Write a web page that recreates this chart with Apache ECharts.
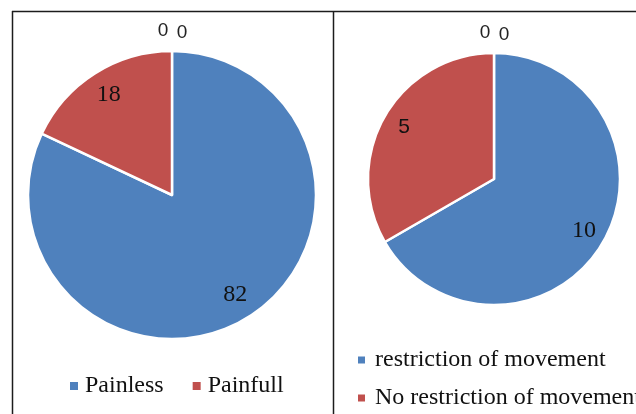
<!DOCTYPE html>
<html>
<head>
<meta charset="utf-8">
<script src="https://cdn.jsdelivr.net/npm/echarts@6/dist/echarts.min.js"></script>
<style>
  html, body { margin: 0; padding: 0; background: #fff; }
  #chart { width: 636px; height: 414px; }
</style>
</head>
<body>
<div id="chart"></div>
<script>
// Pain after treatment
const painNames = ['Painless', 'Painfull'];
const painValues = [82, 18];
// Movement after treatment
const motionNames = ['restriction of movement', 'No restriction of movement'];
const motionValues = [10, 5];
// Empty categories, shown only as "0" labels above each pie
const painBlanks = [0, 0];
const motionBlanks = [0, 0];

const sliceColors = ['#4F81BD', '#C0504D'];
const serif = 'Liberation Serif';
const sans = 'Liberation Sans';

function pieSeries(names, values, blanks, center, r, fonts) {
  const slices = names.map((n, i) => ({
    name: n, value: values[i], itemStyle: { color: sliceColors[i] }
  }));
  const labelSlices = names.map((n, i) => ({
    name: n, value: values[i],
    label: { fontFamily: fonts[i].family, fontSize: fonts[i].size }
  }));
  // zero-sized slices at 12 o'clock; their labels sit in a ring just outside the pie
  const blankOffsets = [[-9, 0], [10, 2]];
  const blankSlices = blanks.map((v, k) => ({
    name: 'blank' + k, value: v,
    label: { show: true, offset: blankOffsets[k] }
  }));
  const common = {
    type: 'pie', center: center, startAngle: 90, clockwise: true,
    avoidLabelOverlap: false, silent: true, animation: false
  };
  return [
    Object.assign({}, common, {
      radius: r,
      itemStyle: { borderColor: '#fff', borderWidth: 2.5 },
      label: { show: false }, labelLine: { show: false },
      data: slices
    }),
    Object.assign({}, common, {
      radius: [r * 0.6, r],
      itemStyle: { color: 'transparent', borderWidth: 0 },
      label: { show: true, position: 'inside', formatter: '{c}', color: '#111' },
      labelLine: { show: false },
      data: labelSlices
    }),
    Object.assign({}, common, {
      radius: [r, r + 34],
      itemStyle: { color: 'transparent', borderWidth: 0 },
      label: {
        show: false, position: 'inside', formatter: '{c}',
        fontFamily: sans, fontSize: 19, color: '#222'
      },
      labelLine: { show: false },
      data: [blankSlices[0]].concat(
        names.map((n, i) => ({ name: n, value: values[i] })),
        [blankSlices[1]]
      )
    })
  ];
}

const chart = echarts.init(document.getElementById('chart'), null, { renderer: 'canvas' });

const frame = '#1c1c1c';
const legendBase = {
  orient: 'horizontal', padding: 0,
  icon: 'rect', itemWidth: 8, itemHeight: 8,
  itemStyle: { borderWidth: 0 },
  selectedMode: false
};
const legendText = { fontFamily: serif, fontSize: 24, lineHeight: 26, color: '#111' };

const option = {
  backgroundColor: '#fff',
  animation: false,
  graphic: [
    { type: 'line', shape: { x1: 12, y1: 11.5, x2: 636, y2: 11.5 }, style: { stroke: frame, lineWidth: 1.5 } },
    { type: 'line', shape: { x1: 12.5, y1: 11, x2: 12.5, y2: 414 }, style: { stroke: frame, lineWidth: 1.5 } },
    { type: 'line', shape: { x1: 333.5, y1: 11, x2: 333.5, y2: 414 }, style: { stroke: frame, lineWidth: 1.5 } }
  ],
  legend: [
    Object.assign({}, legendBase, {
      data: painNames, left: 70, top: 373, itemGap: 29,
      textStyle: Object.assign({}, legendText, { padding: [0, 0, 0, 2] })
    }),
    Object.assign({}, legendBase, {
      data: [motionNames[0]], left: 358, top: 347, itemWidth: 7, itemHeight: 7,
      textStyle: Object.assign({}, legendText, { padding: [0, 0, 0, 5] })
    }),
    Object.assign({}, legendBase, {
      data: [motionNames[1]], left: 358, top: 385, itemWidth: 7, itemHeight: 7,
      textStyle: Object.assign({}, legendText, { padding: [0, 0, 0, 5] })
    })
  ],
  series: [].concat(
    pieSeries(painNames, painValues, painBlanks, [172, 195], 144,
      [{ family: serif, size: 24 }, { family: serif, size: 24 }]),
    pieSeries(motionNames, motionValues, motionBlanks, [494, 179], 126,
      [{ family: serif, size: 24 }, { family: sans, size: 21 }])
  )
};
chart.setOption(option);
</script>
</body>
</html>
